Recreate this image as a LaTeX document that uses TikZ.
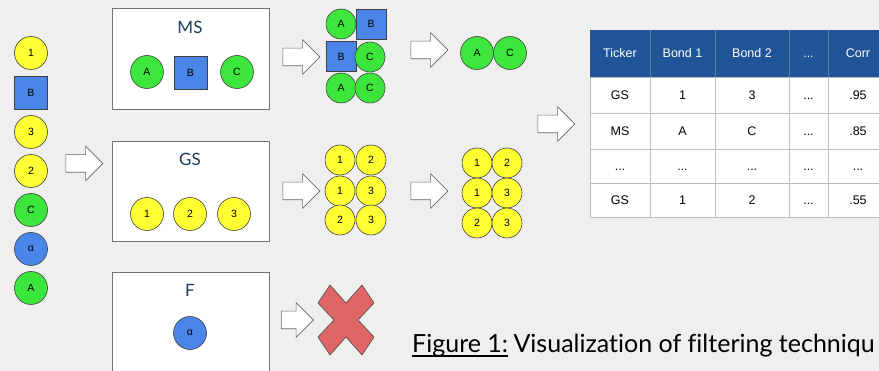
\documentclass[tikz,border=0pt]{standalone}
\usepackage{fontspec}
\setmainfont{Liberation Sans}
\newfontfamily\latofont[Ligatures=NoCommon]{Lato}
\usetikzlibrary{shapes.arrows}

\definecolor{ballyellow}{HTML}{FFFF33}
\definecolor{ballgreen}{HTML}{3CE63C}
\definecolor{ballblue}{HTML}{4A86E8}
\definecolor{headblue}{HTML}{1F5497}
\definecolor{headline}{HTML}{5C7FAF}
\definecolor{gridgray}{HTML}{BDBDBD}
\definecolor{crossred}{HTML}{E06666}
\definecolor{bggray}{HTML}{EFEFEF}
\definecolor{titleblue}{HTML}{1D3B5C}

\newcommand{\tdots}{...}

\tikzset{
  ball/.style={circle, draw=black!75, line width=0.6pt, minimum size=33pt,
    inner sep=0pt, font=\fontsize{10.5}{11}\selectfont},
  small/.style={minimum size=30pt},
  yb/.style={ball, fill=ballyellow},
  gb/.style={ball, fill=ballgreen},
  bb/.style={ball, fill=ballblue},
  sq/.style={ball, rectangle, fill=ballblue},
  panel/.style={draw=black!55, fill=white, line width=0.7pt, minimum width=157pt,
    inner sep=0pt},
  ptitle/.style={font=\latofont\fontsize{17}{18}\selectfont, text=titleblue},
  barrow/.style={single arrow, draw=black!60, fill=white, line width=0.6pt,
    inner sep=8.5pt, single arrow head extend=8.5pt, minimum height=37pt},
  cell/.style={font=\fontsize{12.5}{14}\selectfont, inner sep=0pt,
    text height=9pt, text depth=0pt},
  captext/.style={anchor=base west, inner sep=0pt, font=\latofont\fontsize{25}{28}\selectfont},
}

\begin{document}
\begin{tikzpicture}[x=1pt,y=-1pt]
  \useasboundingbox (0,0) rectangle (879,371);
  \fill[bggray] (0,0) rectangle (879,371);
  \clip (0,0) rectangle (879,371);

  % incoming bonds
  \node[yb] (l1) at (31,53) {1};
  \node[sq, minimum size=33pt] (l2) at (31,92.5) {B};
  \node[yb] (l3) at (31,132) {3};
  \node[yb] (l4) at (31,171) {2};
  \node[gb] (l5) at (31,210) {C};
  \node[bb] (l6) at (31,249) {α};
  \node[gb] (l7) at (31,288) {A};
  \node[barrow] (a0) at (80,163.5) {};

  % issuers
  \node[panel, minimum height=101pt] (ms) at (190.5,58.5) {};
  \node[ptitle] (mst) at (190,27) {MS};
  \node[gb] (ms1) at (147,72) {A};
  \node[sq] (ms2) at (190.5,72.5) {B};
  \node[gb] (ms3) at (237,72) {C};

  \node[panel, minimum height=100pt] (gs) at (190.5,191) {};
  \node[ptitle] (gst) at (190,159) {GS};
  \node[yb] (gs1) at (147,214) {1};
  \node[yb] (gs2) at (190,214) {2};
  \node[yb] (gs3) at (234,214) {3};

  \node[panel, minimum height=110pt] (f) at (190.5,327) {};
  \node[ptitle] (ft) at (190,290) {F};
  \node[bb] (f1) at (190,333) {α};

  \node[barrow] (a1) at (297,57) {};
  \node[barrow] (a2) at (297,191) {};
  \node[barrow, minimum height=32pt] (a3) at (293,320) {};

  % pairs
  \node[gb, small] (p1) at (341,24) {A};
  \node[sq, minimum size=30pt] (p2) at (371,24) {B};
  \node[sq, minimum size=30pt] (p3) at (341,56.5) {B};
  \node[gb, small] (p4) at (370,57) {C};
  \node[gb, small] (p5) at (341,88) {A};
  \node[gb, small] (p6) at (370,88) {C};

  \node[yb, small] (q1) at (340,160) {1};
  \node[yb, small] (q2) at (371,160) {2};
  \node[yb, small] (q3) at (340,191) {1};
  \node[yb, small] (q4) at (371,191) {3};
  \node[yb, small] (q5) at (340,220) {2};
  \node[yb, small] (q6) at (371,220) {3};

  \filldraw[fill=crossred, draw=black!70, line width=0.6pt, shift={(346,320)}]
    (-28,-17) -- (-16,-35) -- (0,-17) -- (16,-35) -- (28,-17) -- (12,0)
    -- (28,17) -- (16,35) -- (0,17) -- (-16,35) -- (-28,17) -- (-12,0) -- cycle;

  % kept pairs
  \node[barrow] (a4) at (425,50) {};
  \node[gb] (r1) at (477,53) {A};
  \node[gb] (r2) at (510,53) {C};

  \node[barrow] (a5) at (425,191) {};
  \node[yb, small] (s1) at (477,163) {1};
  \node[yb, small] (s2) at (507,163) {2};
  \node[yb, small] (s3) at (477,193) {1};
  \node[yb, small] (s4) at (507,193) {3};
  \node[yb, small] (s5) at (477,223) {2};
  \node[yb, small] (s6) at (507,223) {3};

  \node[barrow] (a6) at (552,124) {};

  % table
  \fill[white] (590,77) rectangle (890,217);
  \fill[headblue] (590,30) rectangle (890,77);
  \foreach \x in {650,715,789,828}
    \draw[headline, line width=0.8pt] (\x,30) -- (\x,77);
  \foreach \x in {590,650,715,789,828}
    \draw[gridgray, line width=0.8pt] (\x,77) -- (\x,217);
  \foreach \y in {77,113,149,183,217}
    \draw[gridgray, line width=0.8pt] (590,\y) -- (890,\y);
  \foreach \x/\t [count=\i] in {620/Ticker,682.5/Bond 1,752/Bond 2,808.5/\tdots,858/Corr}
    \node[cell, text=white] (h\i) at (\x,53.5) {\t};
  \foreach \y/\a/\b/\c/\d/\e [count=\r] in {95/GS/1/3/\tdots/.95, 131/MS/A/C/\tdots/.85,
      166/\tdots/\tdots/\tdots/\tdots/\tdots, 200/GS/1/2/\tdots/.55} {
    \node[cell] (c\r-1) at (620,\y) {\a};
    \node[cell] (c\r-2) at (682.5,\y) {\b};
    \node[cell] (c\r-3) at (752,\y) {\c};
    \node[cell] (c\r-4) at (808.5,\y) {\d};
    \node[cell] (c\r-5) at (858,\y) {\e};
  }

  % caption
  \node[captext] (capa) at (412,353) {Figure 1:};
  \node[captext, xshift=5pt] (capb) at (capa.base east) {Visualization of filtering techniqu};
  \draw[line width=2pt] ([yshift=-3pt]capa.base west) -- ([yshift=-3pt]capa.base east);
\end{tikzpicture}
\end{document}
